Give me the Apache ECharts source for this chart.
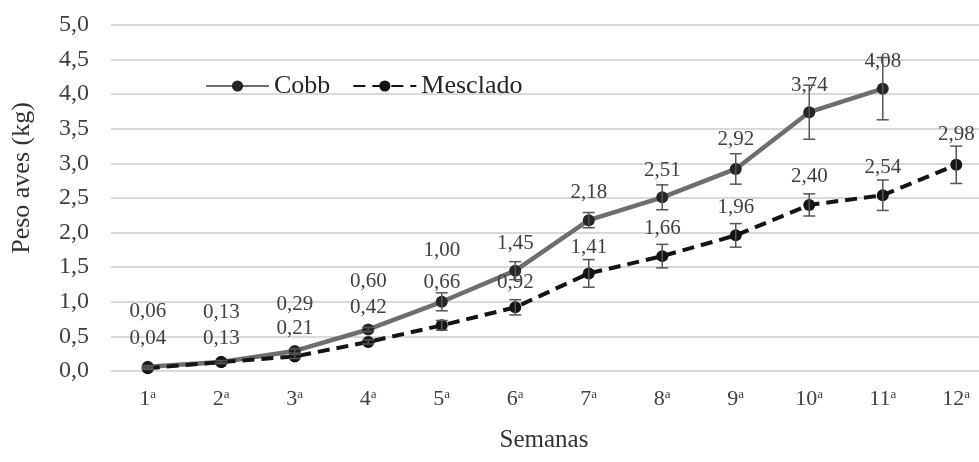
<!DOCTYPE html>
<html>
<head>
<meta charset="utf-8">
<script src="https://cdn.jsdelivr.net/npm/echarts@6/dist/echarts.min.js"></script>
<style>html,body{margin:0;padding:0;background:#fff;overflow:hidden;}#c{width:993px;height:462px;}</style>
</head>
<body>
<div id="c"></div>
<script>
// ---- data ----
const categories = ['1', '2', '3', '4', '5', '6', '7', '8', '9', '10', '11', '12'];
const cobb     = [0.06, 0.13, 0.29, 0.60, 1.00, 1.45, 2.18, 2.51, 2.92, 3.74, 4.08, null];
const cobbErr  = [0.02, 0.02, 0.03, 0.03, 0.13, 0.13, 0.11, 0.18, 0.22, 0.39, 0.45, null];
const mescl    = [0.04, 0.13, 0.21, 0.42, 0.66, 0.92, 1.41, 1.66, 1.96, 2.40, 2.54, 2.98];
const msclErr  = [0.02, 0.02, 0.03, 0.03, 0.07, 0.11, 0.20, 0.17, 0.17, 0.16, 0.22, 0.27];
const yTicks = [0, 0.5, 1, 1.5, 2, 2.5, 3, 3.5, 4, 4.5, 5];

// ---- label layout (px lift above point, as placed in the original) ----
const cobbLift = [55, 50, 46, 48, 51, 27, 28, 27, 29, 27, 27, 0];
const msclLift = [30, 24, 28, 34, 43, 25, 26, 28, 28, 28, 28, 30];

const FONT = '"Liberation Serif", "Times New Roman", serif';
const fmt = v => Number(v).toFixed(2).replace('.', ',');

function labelled(values, lifts) {
  return values.map((v, i) => v == null ? null : ({
    value: v,
    label: { offset: [0, -lifts[i]] }
  }));
}

function errSeries(values, errs) {
  return {
    type: 'custom',
    z: 3,
    silent: true,
    data: values.map((v, i) => v == null ? null : [i, v - errs[i], v + errs[i]]).filter(d => d),
    encode: { x: 0, y: [1, 2] },
    renderItem: function (params, api) {
      const x = api.value(0);
      const lo = api.coord([x, api.value(1)]);
      const hi = api.coord([x, api.value(2)]);
      const w = 6;
      const st = { stroke: '#555', lineWidth: 1.5 };
      return {
        type: 'group',
        children: [
          { type: 'line', shape: { x1: lo[0], y1: lo[1], x2: hi[0], y2: hi[1] }, style: st },
          { type: 'line', shape: { x1: lo[0] - w, y1: lo[1], x2: lo[0] + w, y2: lo[1] }, style: st },
          { type: 'line', shape: { x1: hi[0] - w, y1: hi[1], x2: hi[0] + w, y2: hi[1] }, style: st }
        ]
      };
    }
  };
}

const labelCommon = {
  show: true,
  position: 'inside',
  formatter: p => fmt(p.value),
  fontFamily: FONT,
  fontSize: 21,
  color: '#404040'
};

const chart = echarts.init(document.getElementById('c'), null, { renderer: 'canvas' });
chart.setOption({
  backgroundColor: '#fff',
  animation: false,
  textStyle: { fontFamily: FONT },
  grid: { left: 111, top: 25, right: 0, height: 346, containLabel: false },
  legend: {
    left: 200, top: 68,
    itemWidth: 63, itemHeight: 14, itemGap: 22,
    textStyle: { fontFamily: FONT, fontSize: 26, color: '#262626' },
    data: ['Cobb', 'Mesclado']
  },
  xAxis: {
    type: 'category',
    data: categories,
    boundaryGap: true,
    name: 'Semanas',
    nameLocation: 'middle',
    nameGap: 57,
    nameTextStyle: { fontFamily: FONT, fontSize: 25, color: '#333', padding: [0, 16, 0, 0] },
    axisLine: { show: false },
    axisTick: { show: false },
    axisLabel: {
      interval: 0,
      margin: 17,
      formatter: v => v + '{s|a}',
      fontFamily: FONT, fontSize: 22, color: '#404040',
      rich: { s: { fontFamily: FONT, fontSize: 13, color: '#404040', verticalAlign: 'top', padding: [0, 0, 8, 0] } }
    }
  },
  yAxis: {
    type: 'value',
    min: 0, max: 5, interval: 0.5,
    name: 'Peso aves (kg)',
    nameLocation: 'middle',
    nameGap: 76,
    nameRotate: 90,
    nameTextStyle: { fontFamily: FONT, fontSize: 26, color: '#333', padding: [0, 0, 0, 40] },
    axisLine: { show: false },
    axisTick: { show: false },
    splitLine: { lineStyle: { color: '#d9d9d9', width: 2 } },
    axisLabel: {
      margin: 22,
      fontFamily: FONT, fontSize: 24, color: '#404040',
      formatter: v => yTicks.includes(v) ? v.toFixed(1).replace('.', ',') : ''
    }
  },
  series: [
    {
      name: 'Cobb',
      type: 'line',
      z: 2,
      data: labelled(cobb, cobbLift),
      symbol: 'circle', symbolSize: 12,
      lineStyle: { color: '#6e6e6e', width: 4.5 },
      itemStyle: { color: '#262626' },
      label: labelCommon,
      connectNulls: false
    },
    {
      name: 'Mesclado',
      type: 'line',
      z: 2,
      data: labelled(mescl, msclLift),
      symbol: 'circle', symbolSize: 12,
      lineStyle: { color: '#141414', width: 4, type: [12, 7] },
      itemStyle: { color: '#141414' },
      label: labelCommon
    },
    errSeries(cobb, cobbErr),
    errSeries(mescl, msclErr)
  ]
});
</script>
</body>
</html>
